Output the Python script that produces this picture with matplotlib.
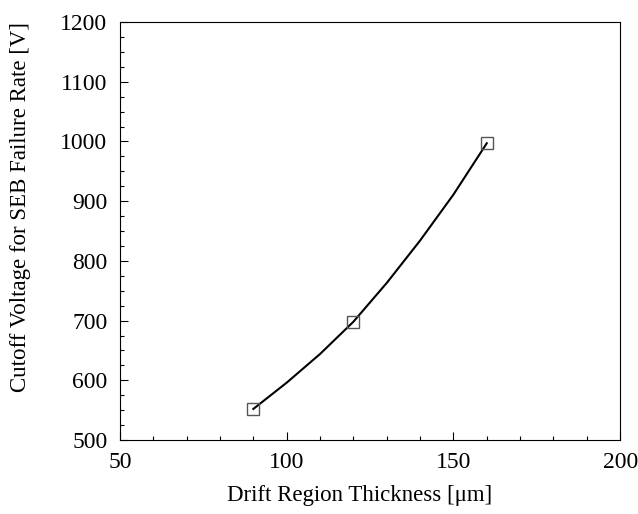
# Cutoff voltage for SEB failure rate vs drift region thickness
import matplotlib.pyplot as plt
from matplotlib.ticker import MultipleLocator

plt.rcParams['font.family'] = ['Liberation Serif', 'DejaVu Serif']

# simulated points
thickness = [90, 120, 160]
cutoff_v = [552, 698, 997]

# fitted curve
curve_x = [90, 100, 110, 120, 130, 140, 150, 160]
curve_y = [552, 596, 644, 698, 763, 834, 911, 997]

fig = plt.figure(figsize=(6.38, 5.14), dpi=100)
ax = fig.add_axes([0.188, 0.144, 0.784, 0.813])

ax.plot(curve_x, curve_y, color='black', linewidth=1.5)
ax.plot(thickness, cutoff_v, linestyle='none', marker='s', markersize=8,
        markerfacecolor='none', markeredgecolor='#555555', markeredgewidth=1.0)

ax.set_xlim(50, 200)
ax.set_ylim(500, 1200)
ax.xaxis.set_major_locator(MultipleLocator(50))
ax.xaxis.set_minor_locator(MultipleLocator(10))
ax.yaxis.set_major_locator(MultipleLocator(100))
ax.yaxis.set_minor_locator(MultipleLocator(25))
ax.tick_params(which='both', direction='in', top=False, right=False, labelsize=17)
ax.tick_params(which='major', length=6, width=0.8, pad=9)
ax.tick_params(which='minor', length=3, width=0.8)
for s in ax.spines.values():
    s.set_linewidth(0.8)

ax.set_xlabel('Drift Region Thickness [\u03bcm]', fontsize=16.5)
ax.set_ylabel('Cutoff Voltage for SEB Failure Rate [V]', fontsize=16.5)
ax.xaxis.set_label_coords(0.479, -0.108)
ax.yaxis.set_label_coords(-0.178, 0.557)

plt.savefig('out.png', dpi=100)
